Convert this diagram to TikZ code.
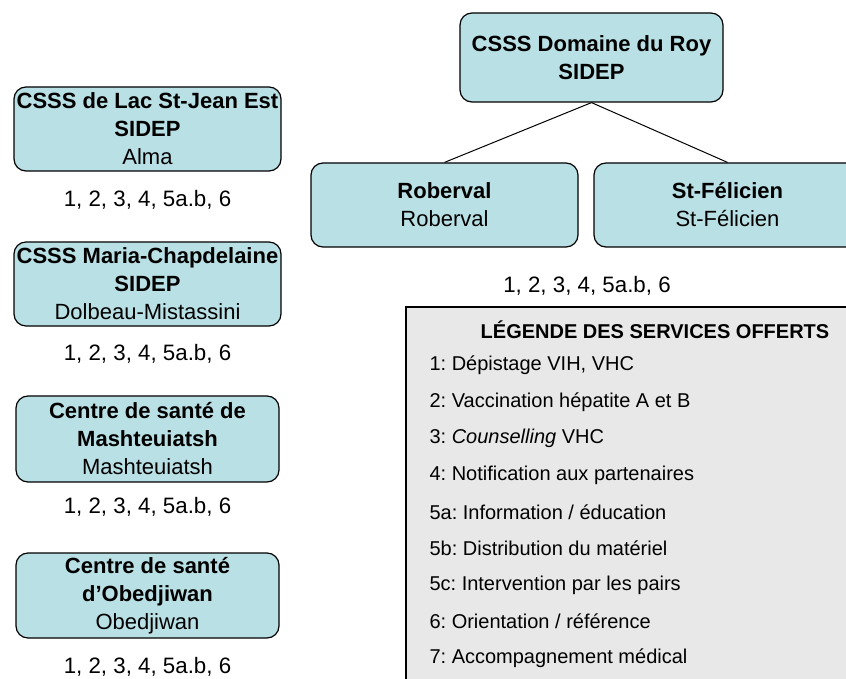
\documentclass[tikz,border=0pt]{standalone}
\usepackage{fontspec}
\setmainfont{Liberation Sans}
\frenchspacing

\begin{document}
\begin{tikzpicture}[x=1pt,y=-1pt,
    site/.style={draw=black, line width=1.2pt, fill=boxteal, rounded corners=12pt,
        align=center, inner sep=0pt, minimum width=267pt, minimum height=84pt,
        font=\fontsize{22}{28}\selectfont},
    services/.style={font=\fontsize{22.3}{26}\selectfont},
    legitem/.style={anchor=west, font=\fontsize{20}{24}\selectfont}]

    % Colors for the boxes
    \definecolor{boxteal}{RGB}{185,224,228}
    \definecolor{leggray}{RGB}{232,232,232}

    \useasboundingbox (0,0) rectangle (846,679);

    % Domaine du Roy and its two sites
    \node[site, minimum width=263pt, minimum height=89pt] (roy) at (591.5,57.5)
        {\textbf{CSSS Domaine du Roy}\\\textbf{SIDEP}};
    \node[site] (roberval) at (444.5,205) {\textbf{Roberval}\\Roberval};
    \node[site] (felicien) at (727.5,205) {\textbf{St-Félicien}\\St-Félicien};
    \draw[line width=1pt] (roy.south) -- (roberval.north);
    \draw[line width=1pt] (roy.south) -- (felicien.north);
    \node[services] (roysrv) at (587,286) {1, 2, 3, 4, 5a.b, 6};

    % Left column
    \node[site] (alma) at (147.5,129)
        {\textbf{CSSS de Lac St-Jean Est}\\\textbf{SIDEP}\\Alma};
    \node[services] (almasrv) at (147.5,200) {1, 2, 3, 4, 5a.b, 6};

    \node[site] (dolbeau) at (147.5,284)
        {\textbf{CSSS Maria-Chapdelaine}\\\textbf{SIDEP}\\Dolbeau-Mistassini};
    \node[services] (dolbeausrv) at (147.5,354) {1, 2, 3, 4, 5a.b, 6};

    \node[site, minimum width=263pt, minimum height=86pt] (mash) at (147.5,439)
        {\textbf{Centre de santé de}\\\textbf{Mashteuiatsh}\\Mashteuiatsh};
    \node[services] (mashsrv) at (147.5,507) {1, 2, 3, 4, 5a.b, 6};

    \node[site, minimum width=263pt, minimum height=85pt] (obed) at (147.5,595.5)
        {\textbf{Centre de santé}\\\textbf{d’Obedjiwan}\\Obedjiwan};
    \node[services] (obedsrv) at (147.5,667) {1, 2, 3, 4, 5a.b, 6};

    % Legend
    \draw[line width=1.5pt, fill=leggray] (406,307) rectangle (880,720);
    \node[font=\fontsize{20}{24}\selectfont\bfseries] (legtitle) at (655,330)
        {LÉGENDE DES SERVICES OFFERTS};
    \node[legitem] (leg1) at (426,365) {1: Dépistage VIH, VHC};
    \node[legitem] (leg2) at (426,402) {2: Vaccination hépatite A et B};
    \node[legitem] (leg3) at (426,438) {3: \textit{Counselling} VHC};
    \node[legitem] (leg4) at (426,475) {4: Notification aux partenaires};
    \node[legitem] (leg5a) at (426,512) {5a: Information / éducation};
    \node[legitem] (leg5b) at (426,548) {5b: Distribution du matériel};
    \node[legitem] (leg5c) at (426,585) {5c: Intervention par les pairs};
    \node[legitem] (leg6) at (426,621) {6: Orientation / référence};
    \node[legitem] (leg7) at (426,658) {7: Accompagnement médical};

\end{tikzpicture}
\end{document}
